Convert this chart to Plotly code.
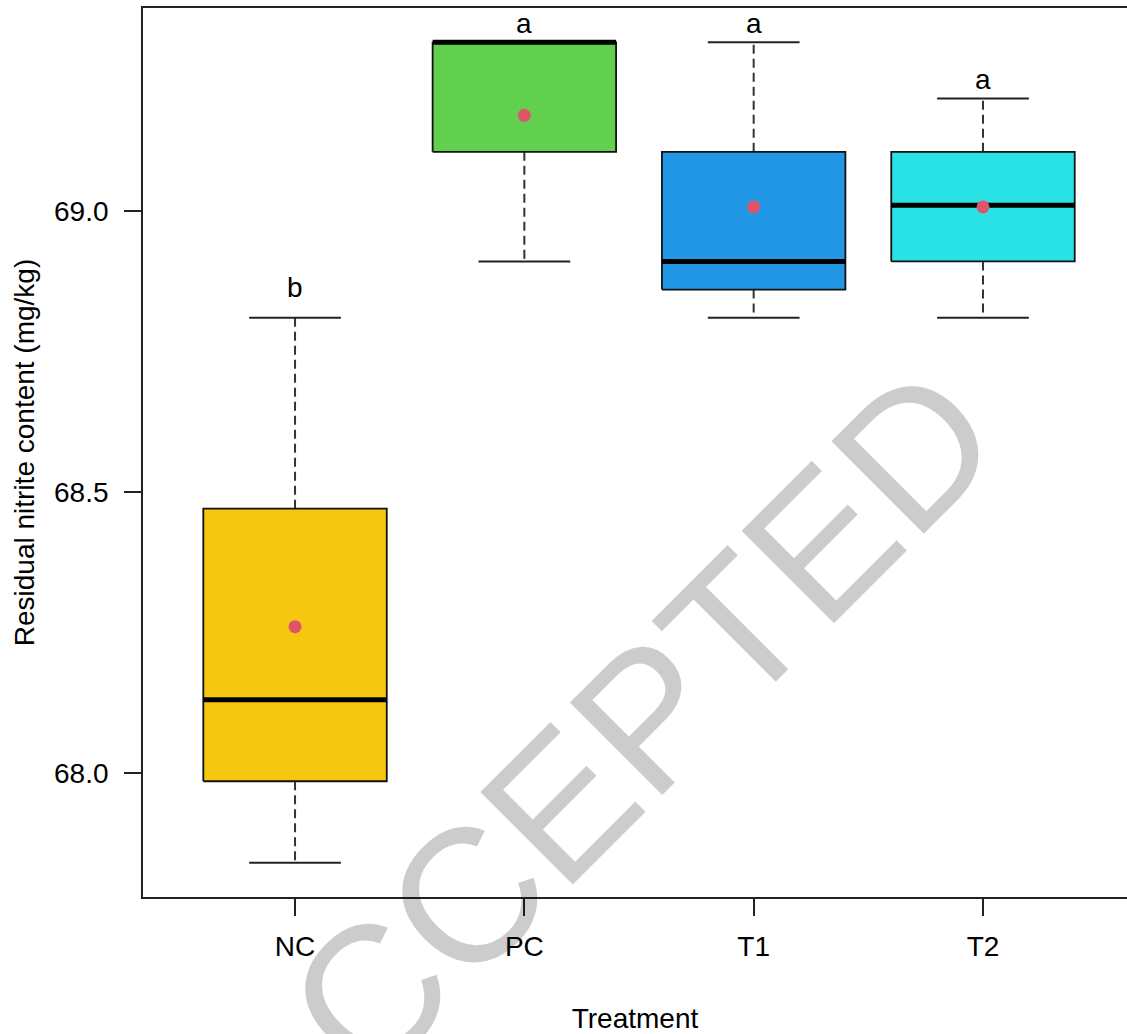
import plotly.graph_objects as go

# Residual nitrite content (mg/kg) by treatment: boxplot summary statistics
treatments = ["NC", "PC", "T1", "T2"]
lower_whisker = [67.84, 68.91, 68.81, 68.81]
lower_hinge = [67.985, 69.105, 68.86, 68.91]
median = [68.13, 69.30, 68.91, 69.01]
upper_hinge = [68.47, 69.30, 69.105, 69.105]
upper_whisker = [68.81, 69.30, 69.30, 69.20]
mean_value = [68.26, 69.17, 69.007, 69.007]
group_letters = ["b", "a", "a", "a"]

y_ticks = [68.0, 68.5, 69.0]

box_colors = ["#F5C710", "#61D04F", "#2297E6", "#28E2E5"]
mean_color = "#DF536B"
FONT = "Liberation Sans, Arial, Helvetica, sans-serif"
HALF_BOX = 0.4
HALF_CAP = 0.2
letter_shift = [13, 1, 1, 1]

fig = go.Figure()

for i, name in enumerate(treatments):
    x0 = i + 1
    # whiskers (dashed) from hinges to extremes
    for a, b in ((upper_hinge[i], upper_whisker[i]), (lower_hinge[i], lower_whisker[i])):
        fig.add_trace(go.Scatter(
            x=[x0, x0], y=[a, b], mode="lines",
            line=dict(color="#333333", width=2, dash="9px,5px"),
            hoverinfo="skip", showlegend=False))
    # whisker caps
    for v in (upper_whisker[i], lower_whisker[i]):
        fig.add_trace(go.Scatter(
            x=[x0 - HALF_CAP, x0 + HALF_CAP], y=[v, v], mode="lines",
            line=dict(color="#222222", width=2),
            hoverinfo="skip", showlegend=False))
    # box between hinges
    fig.add_trace(go.Scatter(
        x=[x0 - HALF_BOX, x0 + HALF_BOX, x0 + HALF_BOX, x0 - HALF_BOX, x0 - HALF_BOX],
        y=[lower_hinge[i], lower_hinge[i], upper_hinge[i], upper_hinge[i], lower_hinge[i]],
        mode="lines", fill="toself", fillcolor=box_colors[i],
        line=dict(color="#111111", width=1.8),
        name=name, hoverinfo="skip", showlegend=False))
    # median bar
    fig.add_trace(go.Scatter(
        x=[x0 - HALF_BOX, x0 + HALF_BOX], y=[median[i], median[i]], mode="lines",
        line=dict(color="#000000", width=5),
        hoverinfo="skip", showlegend=False))

# group means
fig.add_trace(go.Scatter(
    x=[i + 1 for i in range(len(treatments))], y=mean_value, mode="markers",
    marker=dict(color=mean_color, size=13, line=dict(width=0)),
    hoverinfo="skip", showlegend=False))

# significance letters above upper whiskers
for i, letter in enumerate(group_letters):
    fig.add_annotation(
        x=i + 1, y=upper_whisker[i], text=letter, showarrow=False,
        xanchor="center", yanchor="bottom", yshift=letter_shift[i],
        font=dict(family=FONT, size=28, color="#000000"))

# watermark
fig.add_annotation(
    xref="paper", yref="paper", x=0.4614, y=0.1462, text="ACCEPTED",
    showarrow=False, textangle=-45, xanchor="center", yanchor="middle",
    font=dict(family=FONT, size=190, color="rgba(0,0,0,0.2)"))

fig.update_layout(
    width=1127, height=1034,
    margin=dict(l=143, r=0, t=8, b=137),
    paper_bgcolor="white", plot_bgcolor="white",
    font=dict(family=FONT, size=28, color="#000000"),
    showlegend=False,
)

fig.update_xaxes(
    range=[0.337, 4.628],
    tickmode="array", tickvals=[1, 2, 3, 4], ticktext=treatments,
    ticks="outside", ticklen=17, tickwidth=1.8, tickcolor="#222222",
    ticklabelstandoff=6,
    showline=True, linecolor="#222222", linewidth=1.8, mirror=True,
    showgrid=False, zeroline=False,
    tickfont=dict(family=FONT, size=28, color="#000000"),
    title=dict(text="Treatment", standoff=48,
               font=dict(family=FONT, size=28, color="#000000")),
)

fig.update_yaxes(
    range=[67.779, 69.361],
    tickmode="array", tickvals=y_ticks, tickformat=".1f",
    ticks="outside", ticklen=17, tickwidth=1.8, tickcolor="#222222",
    ticklabelstandoff=10,
    showline=True, linecolor="#222222", linewidth=1.8, mirror=False,
    showgrid=False, zeroline=False,
    tickfont=dict(family=FONT, size=28, color="#000000"),
    title=dict(text="Residual nitrite content (mg/kg)", standoff=11,
               font=dict(family=FONT, size=28, color="#000000")),
)

fig.write_html("out.html")
